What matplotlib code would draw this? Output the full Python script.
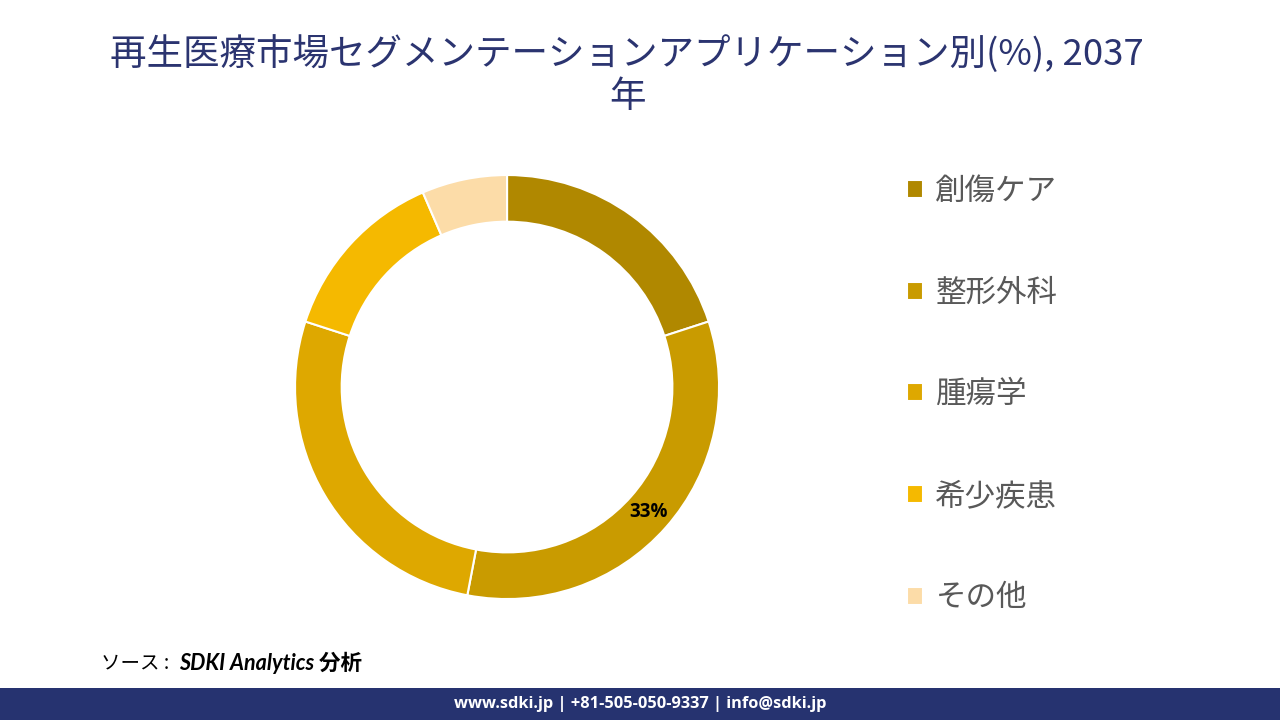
import matplotlib
matplotlib.use("Agg")
import matplotlib.pyplot as plt
from matplotlib.patches import Rectangle
import numpy as np

plt.rcParams['font.family'] = ['Noto Sans CJK JP', 'DejaVu Sans']

# data
labels = ["創傷ケア", "整形外科", "腫瘍学", "希少疾患", "その他"]
shares = [20.0, 33.0, 27.0, 13.5, 6.5]
colors = ["#B08800", "#C99B00", "#DEA800", "#F5B900", "#FCDCA8"]
shown_label = "33%"   # only the largest slice carries a label

fig = plt.figure(figsize=(12.8, 7.2), dpi=100)

ax = fig.add_axes([0.2305, 0.168, 0.33125, 0.5889])
wedges, _ = ax.pie(shares, colors=colors, startangle=90, counterclock=False,
                   radius=1.0, wedgeprops=dict(width=0.22, edgecolor="white", linewidth=1.5))
ax.set_xlim(-1, 1)
ax.set_ylim(-1, 1)
ax.set_aspect("equal")
ax.axis("off")

# label on the 33% slice, in the middle of the ring
w = wedges[1]
mid = np.deg2rad((w.theta1 + w.theta2) / 2)
r = 1.0 - 0.22 / 2
ax.text(r * np.cos(mid), r * np.sin(mid), shown_label, ha="center", va="center",
        fontsize=13.5, fontweight="bold", color="black", family=["Open Sans", "DejaVu Sans"])

# legend
fig.legend(wedges, labels, loc="upper left", bbox_to_anchor=(0.7086, 0.7555),
           frameon=False, fontsize=22, labelcolor="#595959", labelspacing=2.31,
           handlelength=0.53, handleheight=0.53, handletextpad=0.4,
           borderpad=0, borderaxespad=0)

# title
fig.text(0.49, 0.896, "再生医療市場セグメンテーションアプリケーション別(%), 2037\n年",
         ha="center", va="center", fontsize=26.3, color="#2B3470", linespacing=1.2)

# source
fig.text(0.079, 0.079, "ソース : ", ha="left", va="center", fontsize=14,
         style="italic", color="black")
fig.text(0.140, 0.079, "SDKI Analytics 分析", ha="left", va="center", fontsize=15.5,
         style="italic", fontweight="bold", color="black",
         family=["Lato", "Noto Sans CJK JP"])

# footer band
fig.patches.append(Rectangle((0, 0), 1, 32 / 720, transform=fig.transFigure,
                             facecolor="#263370", edgecolor="none"))
fig.text(0.5, 16 / 720, "www.sdki.jp | +81-505-050-9337 | info@sdki.jp", ha="center",
         va="center", fontsize=11.8, fontweight="bold", color="white",
         family=["Open Sans", "DejaVu Sans"])

fig.savefig("out.png", dpi=100)
